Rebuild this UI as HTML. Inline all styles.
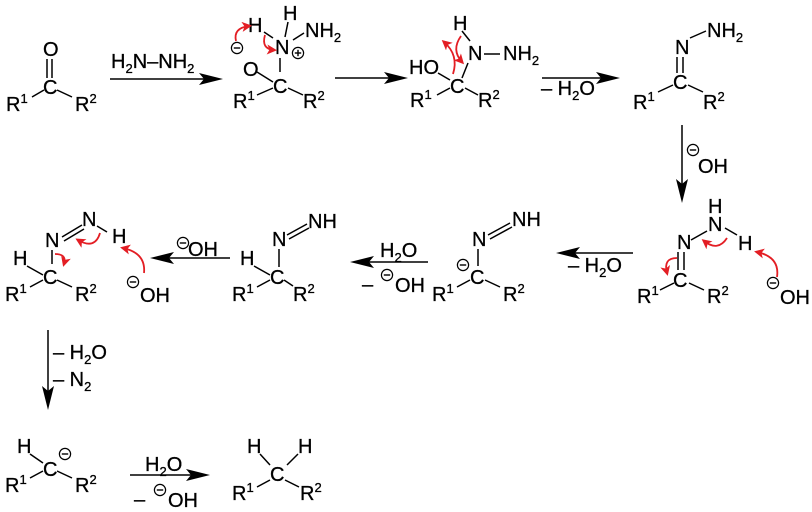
<!DOCTYPE html>
<html><head><meta charset="utf-8"><style>
html,body{margin:0;padding:0;background:#fff;}
svg{display:block;}
text{font-family:"Liberation Sans",Arial,sans-serif;font-size:20px;fill:#000;stroke:#000;stroke-width:0.3;}
.s{font-size:13px;}
.b{stroke:#000;stroke-width:1.5;fill:none;}
.r{stroke:#e31e24;stroke-width:1.8;fill:none;marker-end:url(#ra);}
</style></head><body>
<svg width="812" height="512" viewBox="0 0 812 512" xmlns="http://www.w3.org/2000/svg">
<defs>
<marker id="ra" markerWidth="10" markerHeight="10" refX="7" refY="5" orient="auto" markerUnits="userSpaceOnUse">
<path d="M0,0 L10,5 L0,10 L2.5,5 Z" fill="#e31e24"/>
</marker>
<g id="minus"><circle cx="0" cy="0" r="5.6" fill="#fff" stroke="#000" stroke-width="1.2"/><line x1="-3.2" y1="0" x2="3.2" y2="0" stroke="#000" stroke-width="1.4"/></g>
<g id="plus"><circle cx="0" cy="0" r="5.6" fill="#fff" stroke="#000" stroke-width="1.2"/><line x1="-3.2" y1="0" x2="3.2" y2="0" stroke="#000" stroke-width="1.4"/><line x1="0" y1="-3.2" x2="0" y2="3.2" stroke="#000" stroke-width="1.4"/></g>
</defs>

<!-- Structure 1: ketone -->
<text x="43" y="56">O</text>
<line class="b" x1="47" y1="59" x2="47" y2="78"/>
<line class="b" x1="52" y1="59" x2="52" y2="78"/>
<text x="43" y="94">C</text>
<text x="6" y="111">R<tspan class="s" dy="-8">1</tspan></text>
<text x="75" y="111">R<tspan class="s" dy="-8">2</tspan></text>
<line class="b" x1="32" y1="97" x2="44" y2="90"/>
<line class="b" x1="57" y1="90" x2="72" y2="97"/>

<!-- Arrow 1 -->
<line class="b" x1="110" y1="79" x2="205" y2="79"/>
<path d="M223,79 L199,73 L204,79 L199,85 Z" fill="#000"/>
<text x="111" y="68">H<tspan class="s" dy="5">2</tspan><tspan dy="-5">N–NH</tspan><tspan class="s" dy="5">2</tspan></text>

<!-- Structure 2 -->
<text x="283" y="20">H</text>
<text x="305" y="37">NH<tspan class="s" dy="5">2</tspan></text>
<text x="248" y="32">H</text>
<text x="275" y="54">N</text>
<use href="#plus" x="298" y="53"/>
<use href="#minus" x="237" y="48"/>
<text x="243" y="76">O</text>
<text x="273" y="93">C</text>
<text x="233" y="108">R<tspan class="s" dy="-8">1</tspan></text>
<text x="303" y="108">R<tspan class="s" dy="-8">2</tspan></text>
<line class="b" x1="288" y1="22" x2="285" y2="37"/>
<line class="b" x1="264" y1="32" x2="273" y2="38"/>
<line class="b" x1="293" y1="40" x2="304" y2="33"/>
<line class="b" x1="280" y1="58" x2="280" y2="72"/>
<line class="b" x1="257" y1="72" x2="273" y2="82"/>
<line class="b" x1="257" y1="95" x2="273" y2="88"/>
<line class="b" x1="288" y1="88" x2="303" y2="95"/>
<path class="r" d="M236,41 Q233,28 249,26"/>
<path class="r" d="M265,35 Q261,49 274,50"/>

<!-- Arrow 2 -->
<line class="b" x1="335" y1="78" x2="390" y2="78"/>
<path d="M408,78 L384,72 L389,78 L384,84 Z" fill="#000"/>

<!-- Structure 3 -->
<text x="453" y="30">H</text>
<text x="468" y="60">N</text>
<text x="503" y="60">NH<tspan class="s" dy="5">2</tspan></text>
<line class="b" x1="484" y1="54" x2="500" y2="54"/>
<text x="409" y="74">HO</text>
<text x="450" y="93">C</text>
<text x="410" y="107">R<tspan class="s" dy="-8">1</tspan></text>
<text x="478" y="107">R<tspan class="s" dy="-8">2</tspan></text>
<line class="b" x1="462" y1="31" x2="470" y2="41"/>
<line class="b" x1="468" y1="63" x2="462" y2="78"/>
<line class="b" x1="438" y1="73" x2="450" y2="80"/>
<line class="b" x1="437" y1="95" x2="450" y2="88"/>
<line class="b" x1="465" y1="88" x2="478" y2="95"/>
<path class="r" d="M453,74 Q459,55 444,42"/>
<path class="r" d="M461,36 Q451,50 462,62"/>

<!-- Arrow 3 -->
<line class="b" x1="542" y1="78" x2="602" y2="78"/>
<path d="M620,78 L596,72 L601,78 L596,84 Z" fill="#000"/>
<text x="541" y="95">– H<tspan class="s" dy="5">2</tspan><tspan dy="-5">O</tspan></text>

<!-- Structure 4 -->
<text x="707" y="37">NH<tspan class="s" dy="5">2</tspan></text>
<text x="675" y="54">N</text>
<line class="b" x1="690" y1="38" x2="706" y2="31"/>
<line class="b" x1="677" y1="57" x2="677" y2="73"/>
<line class="b" x1="683" y1="57" x2="683" y2="73"/>
<text x="673" y="89">C</text>
<text x="633" y="109">R<tspan class="s" dy="-8">1</tspan></text>
<text x="703" y="109">R<tspan class="s" dy="-8">2</tspan></text>
<line class="b" x1="658" y1="92" x2="673" y2="85"/>
<line class="b" x1="688" y1="85" x2="703" y2="92"/>

<!-- Down arrow 1 -->
<line class="b" x1="682" y1="125" x2="682" y2="185"/>
<path d="M682,203 L676,179 L682,184 L688,179 Z" fill="#000"/>
<use href="#minus" x="693" y="150"/>
<text x="698" y="173">OH</text>

<!-- Structure 5 -->
<text x="708" y="213">H</text>
<text x="708" y="231">N</text>
<text x="677" y="249">N</text>
<text x="738" y="250">H</text>
<text x="673" y="287">C</text>
<text x="637" y="303">R<tspan class="s" dy="-8">1</tspan></text>
<text x="707" y="303">R<tspan class="s" dy="-8">2</tspan></text>
<use href="#minus" x="773" y="283"/>
<text x="780" y="304">OH</text>
<line class="b" x1="678" y1="252" x2="678" y2="270"/>
<line class="b" x1="684" y1="252" x2="684" y2="270"/>
<line class="b" x1="691" y1="240" x2="707" y2="231"/>
<line class="b" x1="725" y1="228" x2="737" y2="235"/>
<line class="b" x1="660" y1="290" x2="674" y2="283"/>
<line class="b" x1="689" y1="283" x2="704" y2="290"/>
<path class="r" d="M727,238 Q718,252 704,241"/>
<path class="r" d="M677,258 Q663,258 667,273"/>
<path class="r" d="M777,277 Q780,257 757,252"/>

<!-- Arrow 4 (left) -->
<line class="b" x1="633" y1="253" x2="574" y2="253"/>
<path d="M556,253 L580,247 L575,253 L580,259 Z" fill="#000"/>
<text x="568" y="272">– H<tspan class="s" dy="5">2</tspan><tspan dy="-5">O</tspan></text>

<!-- Structure 6 -->
<text x="512" y="226">NH</text>
<text x="472" y="246">N</text>
<line class="b" x1="488" y1="235" x2="510" y2="223"/>
<line class="b" x1="490" y1="239" x2="512" y2="227"/>
<line class="b" x1="478" y1="249" x2="478" y2="266"/>
<text x="470" y="284">C</text>
<use href="#minus" x="463" y="265"/>
<text x="432" y="301">R<tspan class="s" dy="-8">1</tspan></text>
<text x="503" y="301">R<tspan class="s" dy="-8">2</tspan></text>
<line class="b" x1="457" y1="287" x2="470" y2="280"/>
<line class="b" x1="485" y1="280" x2="500" y2="287"/>

<!-- Arrow 5 (left) -->
<line class="b" x1="428" y1="262" x2="368" y2="262"/>
<path d="M350,262 L374,256 L369,262 L374,268 Z" fill="#000"/>
<text x="380" y="257">H<tspan class="s" dy="5">2</tspan><tspan dy="-5">O</tspan></text>
<text x="362" y="291">–</text>
<use href="#minus" x="387" y="275"/>
<text x="395" y="292">OH</text>

<!-- Structure 7 -->
<text x="308" y="228">NH</text>
<text x="272" y="246">N</text>
<line class="b" x1="287" y1="235" x2="307" y2="224"/>
<line class="b" x1="289" y1="239" x2="309" y2="228"/>
<line class="b" x1="279" y1="249" x2="279" y2="267"/>
<text x="240" y="265">H</text>
<line class="b" x1="254" y1="266" x2="270" y2="275"/>
<text x="270" y="284">C</text>
<text x="232" y="301">R<tspan class="s" dy="-8">1</tspan></text>
<text x="293" y="301">R<tspan class="s" dy="-8">2</tspan></text>
<line class="b" x1="257" y1="287" x2="270" y2="280"/>
<line class="b" x1="284" y1="280" x2="293" y2="286"/>

<!-- Arrow 6 (left) -->
<line class="b" x1="230" y1="258" x2="168" y2="258"/>
<path d="M150,258 L174,252 L169,258 L174,264 Z" fill="#000"/>
<use href="#minus" x="183" y="243"/>
<text x="188" y="256">OH</text>

<!-- Structure 8 -->
<text x="82" y="226">N</text>
<text x="45" y="247">N</text>
<line class="b" x1="62" y1="237" x2="82" y2="225"/>
<line class="b" x1="64" y1="241" x2="84" y2="229"/>
<line class="b" x1="97" y1="226" x2="107" y2="232"/>
<text x="112" y="243">H</text>
<line class="b" x1="52" y1="250" x2="52" y2="264"/>
<text x="13" y="265">H</text>
<line class="b" x1="27" y1="266" x2="43" y2="275"/>
<text x="43" y="284">C</text>
<text x="5" y="301">R<tspan class="s" dy="-8">1</tspan></text>
<text x="75" y="301">R<tspan class="s" dy="-8">2</tspan></text>
<line class="b" x1="30" y1="287" x2="43" y2="280"/>
<line class="b" x1="57" y1="280" x2="72" y2="287"/>
<use href="#minus" x="133" y="282"/>
<text x="140" y="302">OH</text>
<path class="r" d="M100,233 Q95,250 78,240"/>
<path class="r" d="M55,254 Q67,254 64,264"/>
<path class="r" d="M144,273 Q146,253 123,248"/>

<!-- Down arrow 2 -->
<line class="b" x1="48" y1="330" x2="48" y2="392"/>
<path d="M48,410 L42,386 L48,391 L54,386 Z" fill="#000"/>
<text x="53" y="359">– H<tspan class="s" dy="5">2</tspan><tspan dy="-5">O</tspan></text>
<text x="53" y="386">– N<tspan class="s" dy="5">2</tspan></text>

<!-- Structure 9 -->
<text x="17" y="453">H</text>
<line class="b" x1="30" y1="454" x2="43" y2="463"/>
<text x="43" y="476">C</text>
<use href="#minus" x="65" y="454"/>
<text x="5" y="492">R<tspan class="s" dy="-8">1</tspan></text>
<text x="75" y="492">R<tspan class="s" dy="-8">2</tspan></text>
<line class="b" x1="30" y1="478" x2="43" y2="471"/>
<line class="b" x1="57" y1="471" x2="72" y2="478"/>

<!-- Arrow 7 -->
<line class="b" x1="130" y1="475" x2="192" y2="475"/>
<path d="M210,475 L186,469 L191,475 L186,481 Z" fill="#000"/>
<text x="145" y="471">H<tspan class="s" dy="5">2</tspan><tspan dy="-5">O</tspan></text>
<text x="134" y="506">–</text>
<use href="#minus" x="160" y="490"/>
<text x="168" y="507">OH</text>

<!-- Structure 10 -->
<text x="247" y="453">H</text>
<text x="298" y="453">H</text>
<line class="b" x1="260" y1="454" x2="270" y2="465"/>
<line class="b" x1="298" y1="454" x2="287" y2="465"/>
<text x="270" y="481">C</text>
<text x="232" y="500">R<tspan class="s" dy="-8">1</tspan></text>
<text x="300" y="500">R<tspan class="s" dy="-8">2</tspan></text>
<line class="b" x1="257" y1="487" x2="270" y2="480"/>
<line class="b" x1="285" y1="480" x2="299" y2="487"/>
</svg>
</body></html>
